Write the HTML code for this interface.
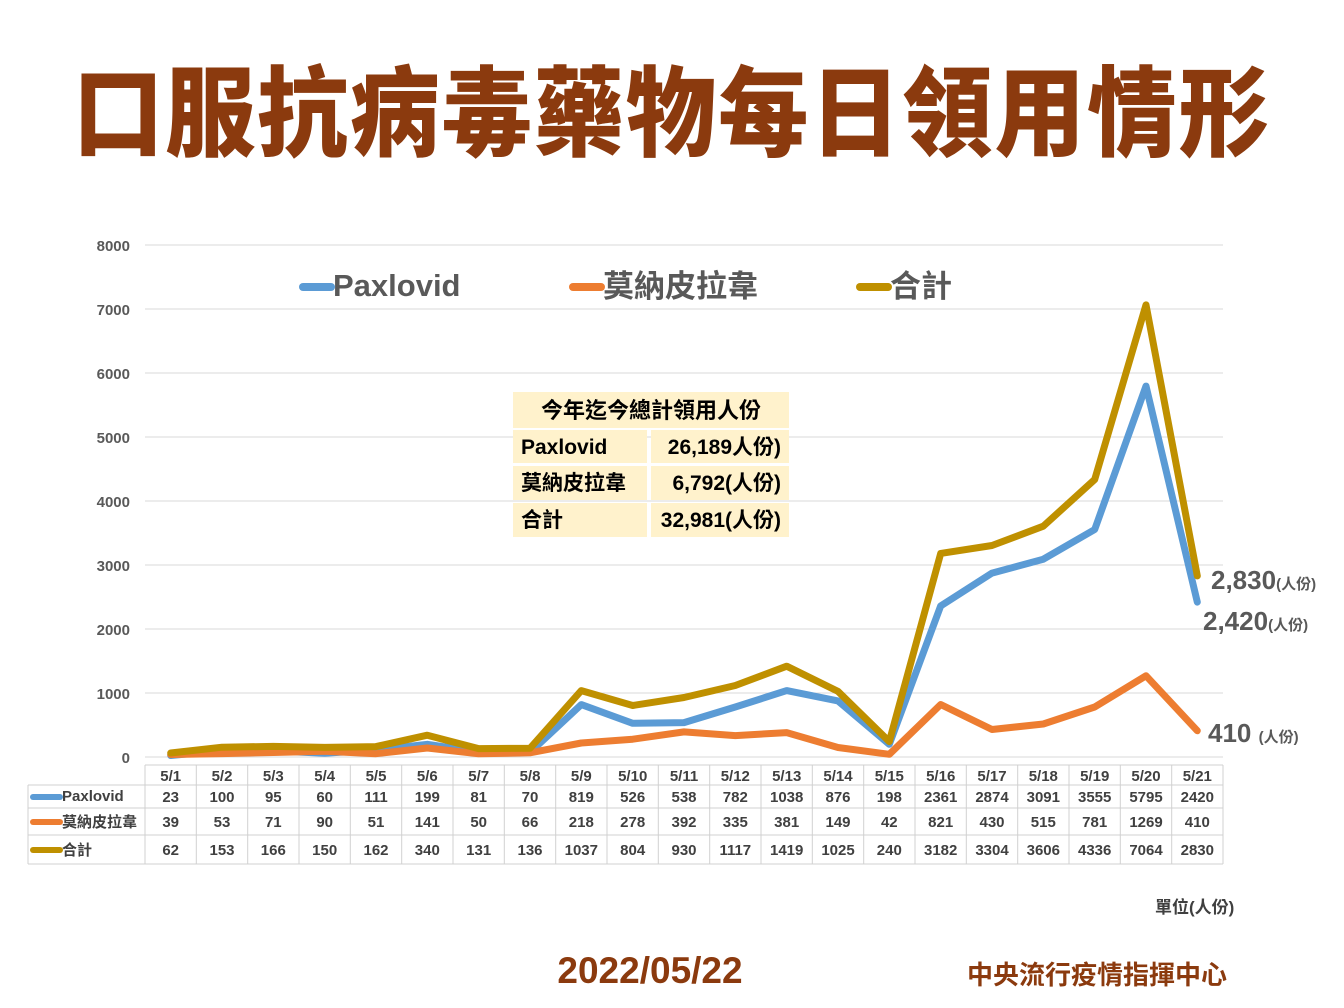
<!DOCTYPE html>
<html><head><meta charset="utf-8"><style>
html,body{margin:0;padding:0;background:#fff;}
svg{display:block;font-family:"Liberation Sans","Noto Sans CJK TC",sans-serif;}
</style></head><body>
<svg width="1344" height="1008" viewBox="0 0 1344 1008" xmlns="http://www.w3.org/2000/svg">
<text x="672" y="148" text-anchor="middle" font-size="98" font-weight="900" fill="#8B3A0E" font-family="Noto Sans CJK TC,sans-serif" letter-spacing="2" textLength="1198" lengthAdjust="spacingAndGlyphs">口服抗病毒藥物每日領用情形</text>
<g stroke="#d9d9d9" stroke-width="1">
<line x1="145" y1="245" x2="1223" y2="245"/><line x1="145" y1="309" x2="1223" y2="309"/><line x1="145" y1="373" x2="1223" y2="373"/><line x1="145" y1="437" x2="1223" y2="437"/><line x1="145" y1="501" x2="1223" y2="501"/><line x1="145" y1="565" x2="1223" y2="565"/><line x1="145" y1="629" x2="1223" y2="629"/><line x1="145" y1="693" x2="1223" y2="693"/><line x1="145" y1="757" x2="1223" y2="757"/>
</g>
<g font-size="15" font-weight="bold" fill="#595959" text-anchor="end">
<text x="130" y="251">8000</text><text x="130" y="315">7000</text><text x="130" y="379">6000</text><text x="130" y="443">5000</text><text x="130" y="507">4000</text><text x="130" y="571">3000</text><text x="130" y="635">2000</text><text x="130" y="699">1000</text><text x="130" y="763">0</text>
</g>
<g font-size="31" font-weight="bold" fill="#595959">
<line x1="303" y1="287" x2="331" y2="287" stroke="#5B9BD5" stroke-width="8" stroke-linecap="round"/><text x="333" y="296">Paxlovid</text>
<line x1="573" y1="287" x2="601" y2="287" stroke="#ED7D31" stroke-width="8" stroke-linecap="round"/><text x="603" y="297">莫納皮拉韋</text>
<line x1="860" y1="287" x2="888" y2="287" stroke="#BF9000" stroke-width="8" stroke-linecap="round"/><text x="890" y="297">合計</text>
</g>
<g fill="none" stroke-width="7" stroke-linejoin="round" stroke-linecap="round">
<polyline stroke="#5B9BD5" points="170.7,755.5 222,750.6 273.3,750.9 324.7,753.2 376,749.9 427.3,744.3 478.7,751.8 530,752.5 581.3,704.6 632.7,723.3 684,722.6 735.3,707 786.7,690.6 838,700.9 889.3,744.3 940.7,605.9 992,573.1 1043.3,559.2 1094.7,529.5 1146,386.1 1197.3,602.1"/>
<polyline stroke="#ED7D31" points="170.7,754.5 222,753.6 273.3,752.5 324.7,751.2 376,753.7 427.3,748 478.7,753.8 530,752.8 581.3,743 632.7,739.2 684,731.9 735.3,735.6 786.7,732.6 838,747.5 889.3,754.3 940.7,704.5 992,729.5 1043.3,724 1094.7,707 1146,675.8 1197.3,730.8"/>
<polyline stroke="#BF9000" points="170.7,753 222,747.2 273.3,746.4 324.7,747.4 376,746.6 427.3,735.2 478.7,748.6 530,748.3 581.3,690.6 632.7,705.5 684,697.5 735.3,685.5 786.7,666.2 838,691.4 889.3,741.6 940.7,553.4 992,545.5 1043.3,526.2 1094.7,479.5 1146,304.9 1197.3,575.9"/>
</g>
<g fill="#FFF2CC">
<rect x="513" y="392" width="276" height="36"/>
<rect x="513" y="430" width="134" height="33"/><rect x="651" y="430" width="138" height="33"/>
<rect x="513" y="466" width="134" height="34"/><rect x="651" y="466" width="138" height="34"/>
<rect x="513" y="503" width="134" height="34"/><rect x="651" y="503" width="138" height="34"/>
</g>
<g font-size="21" font-weight="bold" fill="#000">
<text x="651" y="418" text-anchor="middle" font-size="22">今年迄今總計領用人份</text>
<text x="521" y="454">Paxlovid</text><text x="521" y="490">莫納皮拉韋</text><text x="521" y="527">合計</text>
<text x="781" y="454" text-anchor="end">26,189人份)</text>
<text x="781" y="490" text-anchor="end">6,792(人份)</text>
<text x="781" y="527" text-anchor="end">32,981(人份)</text>
</g>
<g font-weight="bold" fill="#595959">
<text x="1211" y="589" font-size="26">2,830<tspan font-size="15">(人份)</tspan></text>
<text x="1203" y="630" font-size="26">2,420<tspan font-size="15">(人份)</tspan></text>
<text x="1208" y="742" font-size="26">410 <tspan font-size="15">(人份)</tspan></text>
</g>
<g stroke="#d0d0d0" stroke-width="1">
<line x1="145" y1="765" x2="1223" y2="765"/>
<line x1="28" y1="785" x2="1223" y2="785"/>
<line x1="28" y1="808" x2="1223" y2="808"/>
<line x1="28" y1="835" x2="1223" y2="835"/>
<line x1="28" y1="864" x2="1223" y2="864"/>
<line x1="28" y1="785" x2="28" y2="864"/>
<line x1="145" y1="765" x2="145" y2="864"/><line x1="196.3" y1="765" x2="196.3" y2="864"/><line x1="247.7" y1="765" x2="247.7" y2="864"/><line x1="299" y1="765" x2="299" y2="864"/><line x1="350.3" y1="765" x2="350.3" y2="864"/><line x1="401.7" y1="765" x2="401.7" y2="864"/><line x1="453" y1="765" x2="453" y2="864"/><line x1="504.3" y1="765" x2="504.3" y2="864"/><line x1="555.7" y1="765" x2="555.7" y2="864"/><line x1="607" y1="765" x2="607" y2="864"/><line x1="658.3" y1="765" x2="658.3" y2="864"/><line x1="709.7" y1="765" x2="709.7" y2="864"/><line x1="761" y1="765" x2="761" y2="864"/><line x1="812.3" y1="765" x2="812.3" y2="864"/><line x1="863.7" y1="765" x2="863.7" y2="864"/><line x1="915" y1="765" x2="915" y2="864"/><line x1="966.3" y1="765" x2="966.3" y2="864"/><line x1="1017.7" y1="765" x2="1017.7" y2="864"/><line x1="1069" y1="765" x2="1069" y2="864"/><line x1="1120.3" y1="765" x2="1120.3" y2="864"/><line x1="1171.7" y1="765" x2="1171.7" y2="864"/><line x1="1223" y1="765" x2="1223" y2="864"/>
</g>
<g stroke-width="6" stroke-linecap="round">
<line x1="33" y1="797" x2="60" y2="797" stroke="#5B9BD5"/>
<line x1="33" y1="822" x2="60" y2="822" stroke="#ED7D31"/>
<line x1="33" y1="850" x2="60" y2="850" stroke="#BF9000"/>
</g>
<g font-size="15" font-weight="bold" fill="#404040">
<text x="62" y="801">Paxlovid</text><text x="62" y="827">莫納皮拉韋</text><text x="62" y="855">合計</text>
</g>
<g font-size="15" font-weight="bold" fill="#404040" text-anchor="middle">
<g transform="translate(0,781)"><text x="170.7">5/1</text><text x="222">5/2</text><text x="273.3">5/3</text><text x="324.7">5/4</text><text x="376">5/5</text><text x="427.3">5/6</text><text x="478.7">5/7</text><text x="530">5/8</text><text x="581.3">5/9</text><text x="632.7">5/10</text><text x="684">5/11</text><text x="735.3">5/12</text><text x="786.7">5/13</text><text x="838">5/14</text><text x="889.3">5/15</text><text x="940.7">5/16</text><text x="992">5/17</text><text x="1043.3">5/18</text><text x="1094.7">5/19</text><text x="1146">5/20</text><text x="1197.3">5/21</text></g>
<g transform="translate(0,802)"><text x="170.7">23</text><text x="222">100</text><text x="273.3">95</text><text x="324.7">60</text><text x="376">111</text><text x="427.3">199</text><text x="478.7">81</text><text x="530">70</text><text x="581.3">819</text><text x="632.7">526</text><text x="684">538</text><text x="735.3">782</text><text x="786.7">1038</text><text x="838">876</text><text x="889.3">198</text><text x="940.7">2361</text><text x="992">2874</text><text x="1043.3">3091</text><text x="1094.7">3555</text><text x="1146">5795</text><text x="1197.3">2420</text></g>
<g transform="translate(0,827)"><text x="170.7">39</text><text x="222">53</text><text x="273.3">71</text><text x="324.7">90</text><text x="376">51</text><text x="427.3">141</text><text x="478.7">50</text><text x="530">66</text><text x="581.3">218</text><text x="632.7">278</text><text x="684">392</text><text x="735.3">335</text><text x="786.7">381</text><text x="838">149</text><text x="889.3">42</text><text x="940.7">821</text><text x="992">430</text><text x="1043.3">515</text><text x="1094.7">781</text><text x="1146">1269</text><text x="1197.3">410</text></g>
<g transform="translate(0,855)"><text x="170.7">62</text><text x="222">153</text><text x="273.3">166</text><text x="324.7">150</text><text x="376">162</text><text x="427.3">340</text><text x="478.7">131</text><text x="530">136</text><text x="581.3">1037</text><text x="632.7">804</text><text x="684">930</text><text x="735.3">1117</text><text x="786.7">1419</text><text x="838">1025</text><text x="889.3">240</text><text x="940.7">3182</text><text x="992">3304</text><text x="1043.3">3606</text><text x="1094.7">4336</text><text x="1146">7064</text><text x="1197.3">2830</text></g>
</g>
<text x="1155" y="913" font-size="17" font-weight="bold" fill="#404040">單位(人份)</text>
<text x="650" y="983" text-anchor="middle" font-size="37" font-weight="bold" fill="#8B3A0E">2022/05/22</text>
<text x="1097" y="984" text-anchor="middle" font-size="26" font-weight="bold" fill="#8B3A0E">中央流行疫情指揮中心</text>
</svg>
</body></html>
